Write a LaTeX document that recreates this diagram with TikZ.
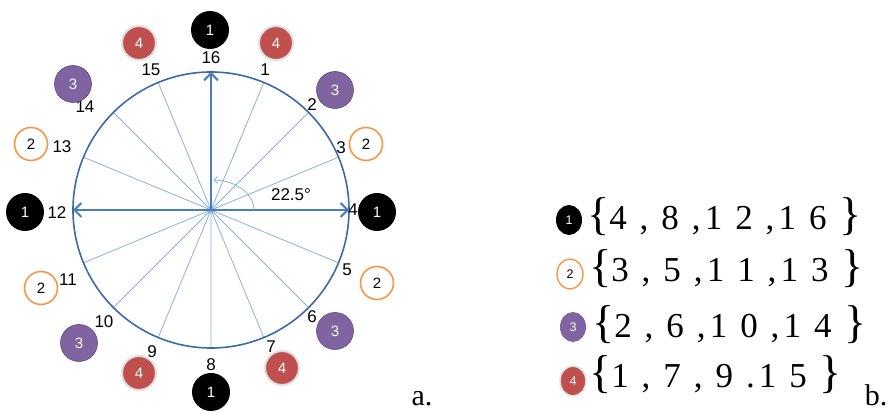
\documentclass[tikz,border=0pt]{standalone}
\usepackage{fontspec}
\setmainfont{Liberation Serif}
\setsansfont{Liberation Sans}
\newfontfamily\setsfont[LetterSpace=12]{Liberation Serif}
\usepackage{tikz}
\usetikzlibrary{arrows.meta, shapes.geometric, calc}
\definecolor{ringblue}{RGB}{60,105,170}
\definecolor{spokeblue}{RGB}{140,176,222}
\definecolor{axisblue}{RGB}{74,126,187}
\definecolor{redbadge}{RGB}{192,80,77}
\definecolor{purplebadge}{RGB}{128,100,162}
\definecolor{orangering}{RGB}{247,150,70}

\newcommand{\bigbr}[1]{{\fontsize{46}{46}\selectfont #1}}

\begin{document}
\begin{tikzpicture}[
  x=1pt, y=1pt,
  font=\sffamily\fontsize{17}{19}\selectfont,
  numlabel/.style={inner sep=0pt},
  badge/.style={circle, minimum size=36pt, inner sep=0pt, text=white,
                font=\sffamily\fontsize{15}{15}\selectfont},
  one/.style={badge, fill=black, minimum size=38pt},
  two/.style={badge, draw=orangering, line width=1.6pt, fill=white,
              text=black, minimum size=33pt},
  three/.style={badge, fill=purplebadge, draw=purplebadge!75!black,
                line width=0.6pt, minimum size=37pt},
  four/.style={badge, fill=redbadge, draw=black!12, line width=2pt,
               minimum size=34pt},
  mini/.style={ellipse, inner sep=0pt, minimum width=26pt, minimum height=30pt,
               font=\sffamily\fontsize{12.5}{12.5}\selectfont},
  setrow/.style={anchor=base west, inner sep=0pt,
                 font=\setsfont\fontsize{35}{36}\selectfont},
  tag/.style={anchor=base, inner sep=0pt,
              font=\rmfamily\fontsize{30}{30}\selectfont},
  ring/.style={ringblue, line width=1.6pt},
  spoke/.style={spokeblue, line width=0.8pt},
  axis/.style={-{Straight Barb[length=7pt, width=14pt, line width=2pt]},
               axisblue, line width=2.6pt}
]
  \useasboundingbox (0,0) rectangle (889,412);

  % a. the circle
  \coordinate (c) at (211,202);
  \coordinate (top) at (211,340);
  \coordinate (east) at (349,202);
  \coordinate (west) at (73,202);

  \draw[spoke] (c) -- +(67.5:138) (c) -- +(45:138) (c) -- +(22.5:138)
               (c) -- +(-22.5:138) (c) -- +(-45:138) (c) -- +(-67.5:138)
               (c) -- +(-90:138) (c) -- +(-112.5:138) (c) -- +(-135:138)
               (c) -- +(-157.5:138) (c) -- +(157.5:138) (c) -- +(135:138)
               (c) -- +(112.5:138);
  \draw[ring] (c) circle[radius=138];
  \draw[axis] (c) -- (top);
  \draw[axis] (c) -- (east);
  \draw[axis] (c) -- (west);
  \draw[spoke, -{Straight Barb[length=3.5pt, width=7pt]}]
    ($(c)+(43,0)$) arc[start angle=0, end angle=88, x radius=42, y radius=30];
  \node[numlabel] (ang) at (291,217) {22.5°};

  \node[numlabel] (l16) at (211,354) {16};
  \node[numlabel] (l1)  at (265,342) {1};
  \node[numlabel] (l2)  at (312,307) {2};
  \node[numlabel] (l3)  at (341,264) {3};
  \node[numlabel] (l4)  at (353,202) {4};
  \node[numlabel] (l5)  at (347,142) {5};
  \node[numlabel] (l6)  at (312,95)  {6};
  \node[numlabel] (l7)  at (271,65)  {7};
  \node[numlabel] (l8)  at (211,47)  {8};
  \node[numlabel] (l9)  at (152,60)  {9};
  \node[numlabel] (l10) at (104,90)  {10};
  \node[numlabel] (l11) at (68,132)  {11};
  \node[numlabel] (l12) at (57,199)  {12};
  \node[numlabel] (l13) at (62,265)  {13};
  \node[numlabel] (l14) at (85,305)  {14};
  \node[numlabel] (l15) at (151,342) {15};

  \node[one]   (b16) at (210,382) {1};
  \node[four]  (b1)  at (276,369) {4};
  \node[three] (b2)  at (335,322) {3};
  \node[two]   (b3)  at (366,268) {2};
  \node[one]   (b4)  at (377,200) {1};
  \node[two]   (b5)  at (377,129) {2};
  \node[three] (b6)  at (335,81)  {3};
  \node[four]  (b7)  at (282,44)  {4};
  \node[one]   (b8)  at (211,20)  {1};
  \node[four]  (b9)  at (139,39)  {4};
  \node[three] (b10) at (79,69)   {3};
  \node[two]   (b11) at (41,124)  {2};
  \node[one]   (b12) at (25,200)  {1};
  \node[two]   (b13) at (31,268)  {2};
  \node[three] (b14) at (73,328)  {3};
  \node[four]  (b15) at (139,369) {4};

  \node[tag] (taga) at (422,6) {a.};

  % b. the four groups
  \node[mini, fill=black, text=white] (g1) at (569,192) {1};
  \node[mini, draw=orangering, line width=1.4pt, text=black] (g2) at (570,138) {2};
  \node[mini, fill=purplebadge, text=white] (g3) at (573,85) {3};
  \node[mini, fill=redbadge, draw=black!12, line width=1.6pt, text=white] (g4) at (573,31) {4};

  \node[setrow] (s1) at (587,182) {\bigbr{\{}4 , 8 ,1 2 ,1 6 \bigbr{\}}};
  \node[setrow] (s2) at (589,130) {\bigbr{\{}3 , 5 ,1 1 ,1 3 \bigbr{\}}};
  \node[setrow] (s3) at (592,74)  {\bigbr{\{}2 , 6 ,1 0 ,1 4 \bigbr{\}}};
  \node[setrow] (s4) at (589,24)  {\bigbr{\{}1 , 7 , 9 .1 5 \bigbr{\}}};

  \node[tag] (tagb) at (876,6) {b.};
\end{tikzpicture}
\end{document}
